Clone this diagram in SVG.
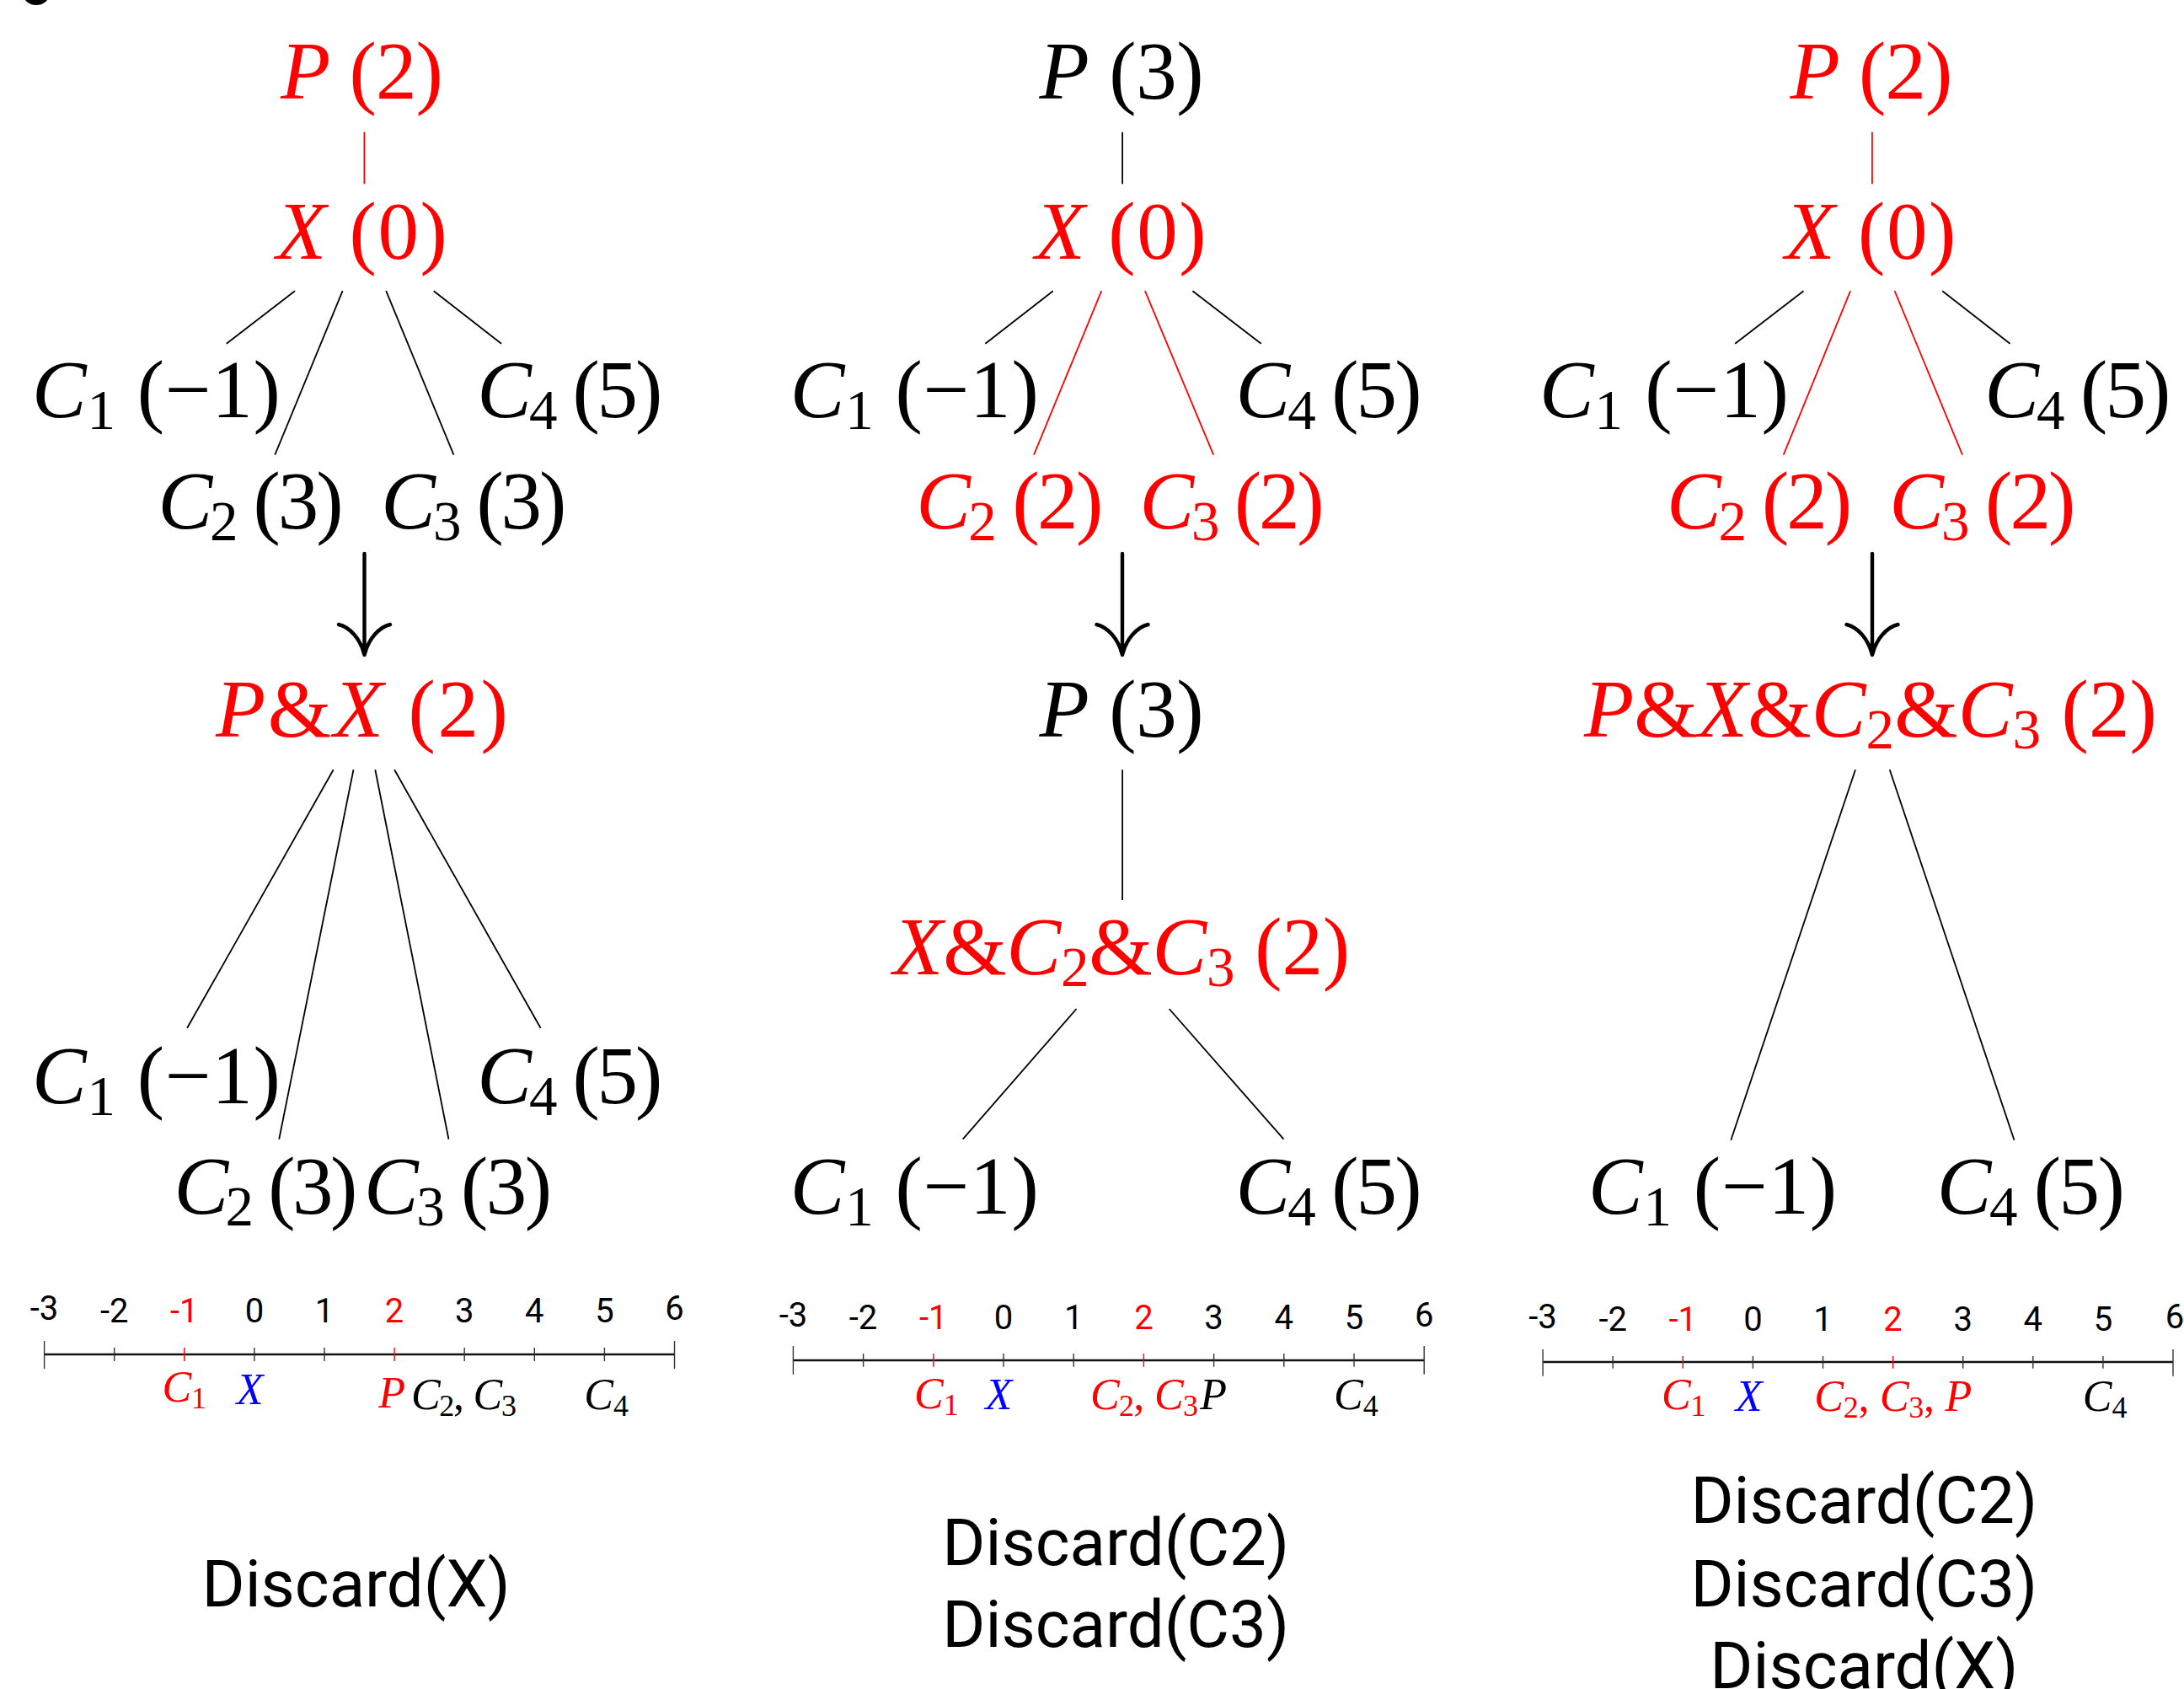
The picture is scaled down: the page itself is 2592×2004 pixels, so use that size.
<svg xmlns="http://www.w3.org/2000/svg" width="2592" height="2004" viewBox="0 0 2592 2004">
<style>
.m{font-family:"Liberation Serif","DejaVu Serif",serif;font-size:97px;text-anchor:middle}
.n{font-family:"Liberation Serif","DejaVu Serif",serif;font-size:52px}
.i{font-style:italic}
.s{font-size:67px}
.ns{font-size:36px}
.r{fill:#FF0000}
.k{fill:#000000}
.b{fill:#0000FF}
.t{font-family:Roboto,"Liberation Sans",sans-serif;font-size:40px;text-anchor:middle;fill:#000}
.tred{fill:#FF0000}
.d{font-family:Roboto,"Liberation Sans",sans-serif;font-size:78px;text-anchor:middle;fill:#000}
.e{stroke:#000;stroke-width:1.8;fill:none}
.er{stroke:#FF0000;stroke-width:1.8;fill:none}
.ar{stroke:#000;stroke-width:4.4;fill:none;stroke-linecap:round}
.ax{stroke:#111;stroke-width:2.4}
.tk{stroke:#333;stroke-width:1.4}
.tr{stroke:#FF0000;stroke-width:1.4}
</style>
<rect width="2592" height="2004" fill="#fff"/>
<ellipse cx="43" cy="-6" rx="15" ry="12" fill="#000"/>

<g id="connectors">
  <!-- column 1 -->
  <line class="er" x1="432.4" y1="156.7" x2="432.4" y2="218.2"/>
  <line class="e" x1="350" y1="345.2" x2="268.8" y2="407.7"/>
  <line class="e" x1="406.6" y1="345.2" x2="326.3" y2="539.7"/>
  <line class="e" x1="458.2" y1="345.2" x2="538.5" y2="539.7"/>
  <line class="e" x1="514.7" y1="345.2" x2="595" y2="407.7"/>
  <path class="ar" d="M432.5 657V775M402 741C415 744 428 758 432.5 777M463 741C450 744 437 758 432.5 777"/>
  <line class="e" x1="395.7" y1="913.3" x2="222.1" y2="1219.8"/>
  <line class="e" x1="419.5" y1="913.3" x2="331.2" y2="1351.7"/>
  <line class="e" x1="445.3" y1="913.3" x2="532.5" y2="1351.7"/>
  <line class="e" x1="468.1" y1="913.3" x2="641.6" y2="1219.8"/>
  <!-- column 2 -->
  <line class="e" x1="1332.1" y1="156.7" x2="1332.1" y2="218.2"/>
  <line class="e" x1="1249.8" y1="345.2" x2="1169.4" y2="407.7"/>
  <line class="er" x1="1307.3" y1="345.2" x2="1227" y2="539.7"/>
  <line class="er" x1="1358.9" y1="345.2" x2="1440.2" y2="539.7"/>
  <line class="e" x1="1415.4" y1="345.2" x2="1496.7" y2="407.7"/>
  <path class="ar" d="M1332 657V775M1301.5 741C1314.5 744 1327.5 758 1332 777M1362.5 741C1349.5 744 1336.5 758 1332 777"/>
  <line class="e" x1="1332.1" y1="913.3" x2="1332.1" y2="1068"/>
  <line class="e" x1="1277.5" y1="1197" x2="1142.7" y2="1351.7"/>
  <line class="e" x1="1387.6" y1="1197" x2="1523.5" y2="1351.7"/>
  <!-- column 3 -->
  <line class="er" x1="2221.9" y1="156.7" x2="2221.9" y2="218.2"/>
  <line class="e" x1="2140.5" y1="345.2" x2="2059.2" y2="407.7"/>
  <line class="er" x1="2196.1" y1="345.2" x2="2116.7" y2="539.7"/>
  <line class="er" x1="2248.6" y1="345.2" x2="2329" y2="539.7"/>
  <line class="e" x1="2305.2" y1="345.2" x2="2385.5" y2="407.7"/>
  <path class="ar" d="M2222 657V775M2191.5 741C2204.5 744 2217.5 758 2222 777M2252.5 741C2239.5 744 2226.5 758 2222 777"/>
  <line class="e" x1="2202" y1="913.3" x2="2054.3" y2="1352.7"/>
  <line class="e" x1="2242.7" y1="913.3" x2="2390.5" y2="1352.7"/>
</g>

<!-- Column 1 nodes -->
<g id="c1-P"><text class="m r" x="429.4" y="117" textLength="193"><tspan class="i">P</tspan> (2)</text></g>
<g id="c1-X"><text class="m r" x="429.4" y="306.5" textLength="203"><tspan class="i">X</tspan> (0)</text></g>
<g id="c1-C1"><text class="m k" x="185.4" y="495" textLength="295"><tspan class="i">C</tspan><tspan class="s" dy="14">1</tspan><tspan dy="-14"> (−1)</tspan></text></g>
<g id="c1-C4"><text class="m k" x="676.3" y="495" textLength="220"><tspan class="i">C</tspan><tspan class="s" dy="14">4</tspan><tspan dy="-14"> (5)</tspan></text></g>
<g id="c1-C2"><text class="m k" x="297.5" y="627" textLength="220"><tspan class="i">C</tspan><tspan class="s" dy="14">2</tspan><tspan dy="-14"> (3)</tspan></text></g>
<g id="c1-C3"><text class="m k" x="562.3" y="627" textLength="220"><tspan class="i">C</tspan><tspan class="s" dy="14">3</tspan><tspan dy="-14"> (3)</tspan></text></g>
<g id="c1-PX"><text class="m r" x="429.4" y="873.6" textLength="347"><tspan class="i">P</tspan>&amp;<tspan class="i">X</tspan> (2)</text></g>
<g id="c1-C1b"><text class="m k" x="185.4" y="1309" textLength="295"><tspan class="i">C</tspan><tspan class="s" dy="14">1</tspan><tspan dy="-14"> (−1)</tspan></text></g>
<g id="c1-C4b"><text class="m k" x="676.3" y="1309" textLength="220"><tspan class="i">C</tspan><tspan class="s" dy="14">4</tspan><tspan dy="-14"> (5)</tspan></text></g>
<g id="c1-C2b"><text class="m k" x="315.4" y="1440" textLength="218"><tspan class="i">C</tspan><tspan class="s" dy="14">2</tspan><tspan dy="-14"> (3)</tspan></text></g>
<g id="c1-C3b"><text class="m k" x="543.5" y="1440" textLength="223"><tspan class="i">C</tspan><tspan class="s" dy="14">3</tspan><tspan dy="-14"> (3)</tspan></text></g>

<!-- Column 2 nodes -->
<g id="c2-P"><text class="m k" x="1331.1" y="117" textLength="195"><tspan class="i">P</tspan> (3)</text></g>
<g id="c2-X"><text class="m r" x="1330.1" y="306.5" textLength="203"><tspan class="i">X</tspan> (0)</text></g>
<g id="c2-C1"><text class="m k" x="1085.2" y="495" textLength="295"><tspan class="i">C</tspan><tspan class="s" dy="14">1</tspan><tspan dy="-14"> (−1)</tspan></text></g>
<g id="c2-C4"><text class="m k" x="1577" y="495" textLength="221"><tspan class="i">C</tspan><tspan class="s" dy="14">4</tspan><tspan dy="-14"> (5)</tspan></text></g>
<g id="c2-C2"><text class="m r" x="1198.2" y="627" textLength="222"><tspan class="i">C</tspan><tspan class="s" dy="14">2</tspan><tspan dy="-14"> (2)</tspan></text></g>
<g id="c2-C3"><text class="m r" x="1462" y="627" textLength="219"><tspan class="i">C</tspan><tspan class="s" dy="14">3</tspan><tspan dy="-14"> (2)</tspan></text></g>
<g id="c2-Pb"><text class="m k" x="1331.1" y="873.6" textLength="195"><tspan class="i">P</tspan> (3)</text></g>
<g id="c2-XC2C3"><text class="m r" x="1331.1" y="1156.3" textLength="542"><tspan class="i">X</tspan>&amp;<tspan class="i">C</tspan><tspan class="s" dy="14">2</tspan><tspan dy="-14">&amp;</tspan><tspan class="i">C</tspan><tspan class="s" dy="14">3</tspan><tspan dy="-14"> (2)</tspan></text></g>
<g id="c2-C1b"><text class="m k" x="1085.2" y="1440" textLength="295"><tspan class="i">C</tspan><tspan class="s" dy="14">1</tspan><tspan dy="-14"> (−1)</tspan></text></g>
<g id="c2-C4b"><text class="m k" x="1577" y="1440" textLength="221"><tspan class="i">C</tspan><tspan class="s" dy="14">4</tspan><tspan dy="-14"> (5)</tspan></text></g>

<!-- Column 3 nodes -->
<g id="c3-P"><text class="m r" x="2220.9" y="117" textLength="193"><tspan class="i">P</tspan> (2)</text></g>
<g id="c3-X"><text class="m r" x="2219.9" y="306.5" textLength="203"><tspan class="i">X</tspan> (0)</text></g>
<g id="c3-C1"><text class="m k" x="1974.9" y="495" textLength="296"><tspan class="i">C</tspan><tspan class="s" dy="14">1</tspan><tspan dy="-14"> (−1)</tspan></text></g>
<g id="c3-C4"><text class="m k" x="2465.8" y="495" textLength="221"><tspan class="i">C</tspan><tspan class="s" dy="14">4</tspan><tspan dy="-14"> (5)</tspan></text></g>
<g id="c3-C2"><text class="m r" x="2088" y="627" textLength="220"><tspan class="i">C</tspan><tspan class="s" dy="14">2</tspan><tspan dy="-14"> (2)</tspan></text></g>
<g id="c3-C3"><text class="m r" x="2352.8" y="627" textLength="221"><tspan class="i">C</tspan><tspan class="s" dy="14">3</tspan><tspan dy="-14"> (2)</tspan></text></g>
<g id="c3-PXC2C3"><text class="m r" x="2219.9" y="873.6" textLength="680"><tspan class="i">P</tspan>&amp;<tspan class="i">X</tspan>&amp;<tspan class="i">C</tspan><tspan class="s" dy="14">2</tspan><tspan dy="-14">&amp;</tspan><tspan class="i">C</tspan><tspan class="s" dy="14">3</tspan><tspan dy="-14"> (2)</tspan></text></g>
<g id="c3-C1b"><text class="m k" x="2032.5" y="1440" textLength="295"><tspan class="i">C</tspan><tspan class="s" dy="14">1</tspan><tspan dy="-14"> (−1)</tspan></text></g>
<g id="c3-C4b"><text class="m k" x="2410.3" y="1440" textLength="223"><tspan class="i">C</tspan><tspan class="s" dy="14">4</tspan><tspan dy="-14"> (5)</tspan></text></g>

<!-- Number line 1 -->
<g id="numberline-1">
  <line class="ax" x1="52.6" y1="1607" x2="800.5" y2="1607"/>
  <line class="tk" x1="52.6" y1="1591" x2="52.6" y2="1624"/>
  <line class="tk" x1="135.7" y1="1599" x2="135.7" y2="1615"/>
  <line class="tr" x1="218.8" y1="1599" x2="218.8" y2="1615"/>
  <line class="tk" x1="301.9" y1="1599" x2="301.9" y2="1615"/>
  <line class="tk" x1="385" y1="1599" x2="385" y2="1615"/>
  <line class="tr" x1="468.1" y1="1599" x2="468.1" y2="1615"/>
  <line class="tk" x1="551.2" y1="1599" x2="551.2" y2="1615"/>
  <line class="tk" x1="634.3" y1="1599" x2="634.3" y2="1615"/>
  <line class="tk" x1="717.4" y1="1599" x2="717.4" y2="1615"/>
  <line class="tk" x1="800.5" y1="1591" x2="800.5" y2="1624"/>
  <text class="t" x="52.6" y="1566">-3</text>
  <text class="t" x="135.7" y="1569">-2</text>
  <text class="t tred" x="218.8" y="1569">-1</text>
  <text class="t" x="301.9" y="1569">0</text>
  <text class="t" x="385" y="1569">1</text>
  <text class="t tred" x="468.1" y="1569">2</text>
  <text class="t" x="551.2" y="1569">3</text>
  <text class="t" x="634.3" y="1569">4</text>
  <text class="t" x="717.4" y="1569">5</text>
  <text class="t" x="800.5" y="1566">6</text>
  <text class="n r" x="192.4" y="1662.5"><tspan class="i">C</tspan><tspan class="ns" dy="8">1</tspan></text>
  <text class="n b i" x="280.7" y="1666.4">X</text>
  <text class="n r i" x="449.2" y="1669.5">P</text>
  <text class="n k" x="487.9" y="1672.4" textLength="125"><tspan class="i">C</tspan><tspan class="ns" dy="8">2</tspan><tspan dy="-8">, </tspan><tspan class="i">C</tspan><tspan class="ns" dy="8">3</tspan></text>
  <text class="n k" x="693.2" y="1672.4"><tspan class="i">C</tspan><tspan class="ns" dy="8">4</tspan></text>
</g>

<!-- Number line 2 -->
<g id="numberline-2">
  <line class="ax" x1="941.4" y1="1614" x2="1690.2" y2="1614"/>
  <line class="tk" x1="941.4" y1="1597" x2="941.4" y2="1630.8"/>
  <line class="tk" x1="1024.6" y1="1606" x2="1024.6" y2="1621.8"/>
  <line class="tr" x1="1107.8" y1="1606" x2="1107.8" y2="1621.8"/>
  <line class="tk" x1="1191" y1="1606" x2="1191" y2="1621.8"/>
  <line class="tk" x1="1274.2" y1="1606" x2="1274.2" y2="1621.8"/>
  <line class="tr" x1="1357.4" y1="1606" x2="1357.4" y2="1621.8"/>
  <line class="tk" x1="1440.6" y1="1606" x2="1440.6" y2="1621.8"/>
  <line class="tk" x1="1523.8" y1="1606" x2="1523.8" y2="1621.8"/>
  <line class="tk" x1="1607" y1="1606" x2="1607" y2="1621.8"/>
  <line class="tk" x1="1690.2" y1="1597" x2="1690.2" y2="1630.8"/>
  <text class="t" x="941.4" y="1574.3">-3</text>
  <text class="t" x="1024.6" y="1577.2">-2</text>
  <text class="t tred" x="1107.8" y="1577.2">-1</text>
  <text class="t" x="1191" y="1577.2">0</text>
  <text class="t" x="1274.2" y="1577.2">1</text>
  <text class="t tred" x="1357.4" y="1577.2">2</text>
  <text class="t" x="1440.6" y="1577.2">3</text>
  <text class="t" x="1523.8" y="1577.2">4</text>
  <text class="t" x="1607" y="1577.2">5</text>
  <text class="t" x="1690.2" y="1574.3">6</text>
  <text class="n r" x="1085" y="1670.5"><tspan class="i">C</tspan><tspan class="ns" dy="8">1</tspan></text>
  <text class="n b i" x="1169.4" y="1672.4">X</text>
  <text class="n r" x="1293.9" y="1672.4" textLength="128"><tspan class="i">C</tspan><tspan class="ns" dy="8">2</tspan><tspan dy="-8">, </tspan><tspan class="i">C</tspan><tspan class="ns" dy="8">3</tspan></text>
  <text class="n k i" x="1424.3" y="1672.4">P</text>
  <text class="n k" x="1583" y="1672.4"><tspan class="i">C</tspan><tspan class="ns" dy="8">4</tspan></text>
</g>

<!-- Number line 3 -->
<g id="numberline-3">
  <line class="ax" x1="1831.1" y1="1616" x2="2579" y2="1616"/>
  <line class="tk" x1="1831.1" y1="1601" x2="1831.1" y2="1632.7"/>
  <line class="tk" x1="1914.2" y1="1609" x2="1914.2" y2="1623.8"/>
  <line class="tr" x1="1997.3" y1="1609" x2="1997.3" y2="1623.8"/>
  <line class="tk" x1="2080.4" y1="1609" x2="2080.4" y2="1623.8"/>
  <line class="tk" x1="2163.5" y1="1609" x2="2163.5" y2="1623.8"/>
  <line class="tr" x1="2246.6" y1="1609" x2="2246.6" y2="1623.8"/>
  <line class="tk" x1="2329.7" y1="1609" x2="2329.7" y2="1623.8"/>
  <line class="tk" x1="2412.8" y1="1609" x2="2412.8" y2="1623.8"/>
  <line class="tk" x1="2495.9" y1="1609" x2="2495.9" y2="1623.8"/>
  <line class="tk" x1="2579" y1="1601" x2="2579" y2="1632.7"/>
  <text class="t" x="1831.1" y="1576.3">-3</text>
  <text class="t" x="1914.2" y="1579.2">-2</text>
  <text class="t tred" x="1997.3" y="1579.2">-1</text>
  <text class="t" x="2080.4" y="1579.2">0</text>
  <text class="t" x="2163.5" y="1579.2">1</text>
  <text class="t tred" x="2246.6" y="1579.2">2</text>
  <text class="t" x="2329.7" y="1579.2">3</text>
  <text class="t" x="2412.8" y="1579.2">4</text>
  <text class="t" x="2495.9" y="1579.2">5</text>
  <text class="t" x="2581" y="1576.3">6</text>
  <text class="n r" x="1971.9" y="1672.4"><tspan class="i">C</tspan><tspan class="ns" dy="8">1</tspan></text>
  <text class="n b i" x="2059.7" y="1674.4">X</text>
  <text class="n r" x="2153.3" y="1674.4" textLength="187"><tspan class="i">C</tspan><tspan class="ns" dy="8">2</tspan><tspan dy="-8">, </tspan><tspan class="i">C</tspan><tspan class="ns" dy="8">3</tspan><tspan dy="-8">, </tspan><tspan class="i">P</tspan></text>
  <text class="n k" x="2471.8" y="1674.4"><tspan class="i">C</tspan><tspan class="ns" dy="8">4</tspan></text>
</g>

<!-- Captions -->
<g id="caption-1"><text class="d" x="422.5" y="1905.6">Discard(X)</text></g>
<g id="caption-2">
  <text class="d" x="1324.2" y="1857">Discard(C2)</text>
  <text class="d" x="1324.2" y="1954">Discard(C3)</text>
</g>
<g id="caption-3">
  <text class="d" x="2212.3" y="1807.4">Discard(C2)</text>
  <text class="d" x="2212.3" y="1905.6">Discard(C3)</text>
  <text class="d" x="2212.3" y="2003">Discard(X)</text>
</g>
</svg>
